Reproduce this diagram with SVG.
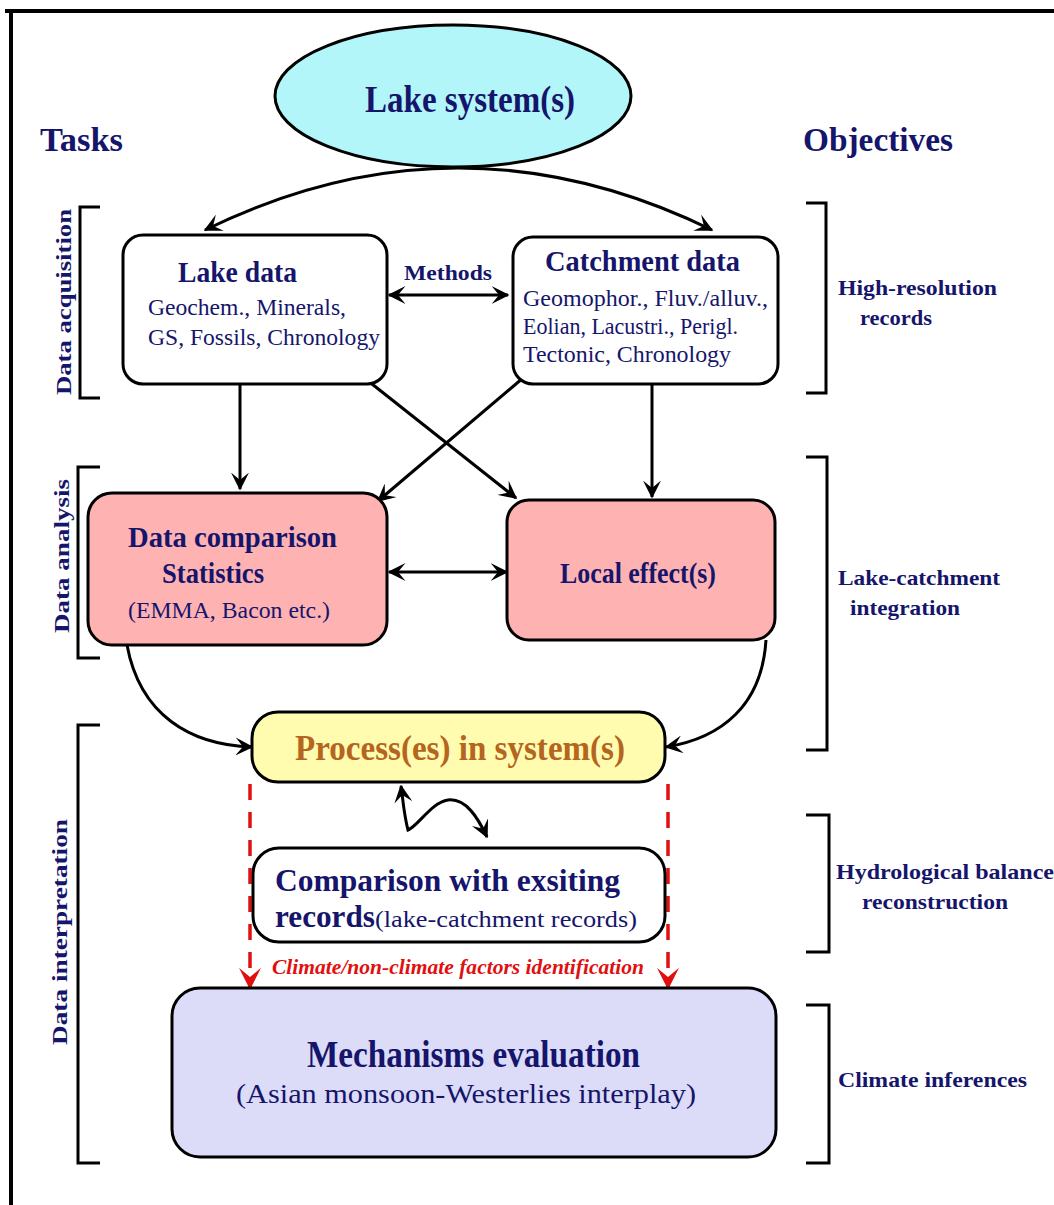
<svg xmlns="http://www.w3.org/2000/svg" width="1054" height="1205" viewBox="0 0 1054 1205">
<defs>
<style>
.t{font-family:'Liberation Serif','Times New Roman',Tinos,serif;fill:#15156b}
.b{font-weight:bold}
.box{stroke:#000;stroke-width:3}
.ln{fill:none;stroke:#000;stroke-width:3}
.br{fill:none;stroke:#000;stroke-width:3}
.red{fill:none;stroke:#e01010;stroke-width:3.5;stroke-dasharray:16 12}
</style>
<marker id="a" viewBox="0 0 12 12" refX="11" refY="6" markerWidth="18" markerHeight="18" orient="auto-start-reverse" markerUnits="userSpaceOnUse">
<path d="M0,0 L12,6 L0,12 L5,6 z" fill="#000"/>
</marker>
<marker id="ar" viewBox="0 0 12 12" refX="11" refY="6" markerWidth="22" markerHeight="22" orient="auto" markerUnits="userSpaceOnUse">
<path d="M0,0 L12,6 L0,12 L5,6 z" fill="#e01010"/>
</marker>
</defs>
<rect width="1054" height="1205" fill="#fff"/>
<g id="frame">
<path d="M5,11 L1054,11 M11,11 L11,1205" fill="none" stroke="#000" stroke-width="4"/>
</g>

<g id="headers">
<text class="t b" x="40" y="151" font-size="34" textLength="83" lengthAdjust="spacingAndGlyphs">Tasks</text>
<text class="t b" x="803" y="151" font-size="34" textLength="150" lengthAdjust="spacingAndGlyphs">Objectives</text>
</g>

<g id="connectors">
<path class="ln" d="M712,230 Q458,106 205,230" marker-start="url(#a)" marker-end="url(#a)"/>
<path class="ln" d="M389,295 L508,295" marker-start="url(#a)" marker-end="url(#a)"/>
<path class="ln" d="M240,385 L240,489" marker-end="url(#a)"/>
<path class="ln" d="M372,384 L516,498" marker-end="url(#a)"/>
<path class="ln" d="M530,372 L378,501" marker-end="url(#a)"/>
<path class="ln" d="M652,385 L652,497" marker-end="url(#a)"/>
<path class="ln" d="M389,572 L507,572" marker-start="url(#a)" marker-end="url(#a)"/>
<path class="ln" d="M127,645 C140,715 190,745 252,747" marker-end="url(#a)"/>
<path class="ln" d="M766,640 C762,705 722,738 666,747" marker-end="url(#a)"/>
<path class="ln" stroke-width="4" d="M401,786 C403,800 404,815 408,830 C418,826 432,802 448,800 C466,798 478,818 487,837" marker-start="url(#a)" marker-end="url(#a)"/>
<path class="red" d="M250,784 L250,988" marker-end="url(#ar)"/>
<path class="red" d="M668,784 L668,988" marker-end="url(#ar)"/>
</g>

<g id="lake-system">
<ellipse class="box" cx="453" cy="96" rx="178" ry="71" fill="#b3f6f9"/>
<text class="t b" x="470" y="112" font-size="37" text-anchor="middle" textLength="210" lengthAdjust="spacingAndGlyphs">Lake system(s)</text>
</g>

<g id="lake-data">
<rect class="box" x="123" y="235" width="264" height="149" rx="20" fill="#fff"/>
<text class="t b" x="178" y="282" font-size="29" textLength="119" lengthAdjust="spacingAndGlyphs">Lake data</text>
<text class="t" x="148" y="315" font-size="23" textLength="198" lengthAdjust="spacingAndGlyphs">Geochem., Minerals,</text>
<text class="t" x="148" y="345" font-size="23" textLength="232" lengthAdjust="spacingAndGlyphs">GS, Fossils, Chronology</text>
</g>

<g id="methods">
<text class="t b" x="404" y="280" font-size="21" textLength="88" lengthAdjust="spacingAndGlyphs">Methods</text>
</g>

<g id="catchment-data">
<rect class="box" x="513" y="237" width="265" height="147" rx="20" fill="#fff"/>
<text class="t b" x="545" y="271" font-size="29" textLength="195" lengthAdjust="spacingAndGlyphs">Catchment data</text>
<text class="t" x="523" y="306" font-size="23" textLength="245" lengthAdjust="spacingAndGlyphs">Geomophor., Fluv./alluv.,</text>
<text class="t" x="523" y="334" font-size="23" textLength="215" lengthAdjust="spacingAndGlyphs">Eolian, Lacustri., Perigl.</text>
<text class="t" x="523" y="362" font-size="23" textLength="208" lengthAdjust="spacingAndGlyphs">Tectonic, Chronology</text>
</g>

<g id="data-comparison">
<rect class="box" x="88" y="493" width="299" height="152" rx="24" fill="#ffb2b2"/>
<text class="t b" x="128" y="547" font-size="29" textLength="209" lengthAdjust="spacingAndGlyphs">Data comparison</text>
<text class="t b" x="162" y="583" font-size="29" textLength="102" lengthAdjust="spacingAndGlyphs">Statistics</text>
<text class="t" x="128" y="618" font-size="23" textLength="202" lengthAdjust="spacingAndGlyphs">(EMMA, Bacon etc.)</text>
</g>

<g id="local-effects">
<rect class="box" x="507" y="500" width="268" height="140" rx="22" fill="#ffb2b2"/>
<text class="t b" x="560" y="583" font-size="29" textLength="156" lengthAdjust="spacingAndGlyphs">Local effect(s)</text>
</g>

<g id="processes">
<rect class="box" x="252" y="712" width="413" height="70" rx="26" fill="#fffcb0"/>
<text class="t b" x="295" y="760" font-size="35" textLength="330" lengthAdjust="spacingAndGlyphs" style="fill:#b5651d">Process(es) in system(s)</text>
</g>

<g id="comparison">
<rect class="box" x="253" y="848" width="412" height="94" rx="26" fill="#fff"/>
<text class="t b" x="275" y="891" font-size="31" textLength="345" lengthAdjust="spacingAndGlyphs">Comparison with exsiting</text>
<text class="t b" x="275" y="927" font-size="31" textLength="100" lengthAdjust="spacingAndGlyphs">records</text>
<text class="t" x="375" y="927" font-size="24" textLength="262" lengthAdjust="spacingAndGlyphs">(lake-catchment records)</text>
</g>

<g id="red-label">
<text x="272" y="974" font-size="20" font-family="'Liberation Serif','Times New Roman',serif" font-weight="bold" font-style="italic" fill="#e01010" textLength="372" lengthAdjust="spacingAndGlyphs">Climate/non-climate factors  identification</text>
</g>

<g id="mechanisms">
<rect class="box" x="172" y="988" width="604" height="169" rx="28" fill="#dcdcf8"/>
<text class="t b" x="307" y="1067" font-size="37" textLength="333" lengthAdjust="spacingAndGlyphs">Mechanisms evaluation</text>
<text class="t" x="236" y="1103" font-size="27" textLength="460" lengthAdjust="spacingAndGlyphs">(Asian monsoon-Westerlies interplay)</text>
</g>

<g id="brackets">
<path class="br" d="M100,207 L80,207 L80,398 L100,398"/>
<path class="br" d="M100,467 L78,467 L78,658 L100,658"/>
<path class="br" d="M100,725 L78,725 L78,1163 L100,1163"/>
<path class="br" d="M806,203 L826,203 L826,393 L806,393"/>
<path class="br" d="M806,457 L827,457 L827,750 L806,750"/>
<path class="br" d="M806,815 L829,815 L829,952 L806,952"/>
<path class="br" d="M806,1005 L829,1005 L829,1163 L806,1163"/>
</g>

<g id="labels">
<text class="t b" transform="translate(71,302) rotate(-90)" font-size="22" text-anchor="middle" textLength="186" lengthAdjust="spacingAndGlyphs">Data acquisition</text>
<text class="t b" transform="translate(69,556) rotate(-90)" font-size="22" text-anchor="middle" textLength="154" lengthAdjust="spacingAndGlyphs">Data analysis</text>
<text class="t b" transform="translate(67,932) rotate(-90)" font-size="22" text-anchor="middle" textLength="226" lengthAdjust="spacingAndGlyphs">Data interpretation</text>
<text class="t b" x="838" y="295" font-size="22" textLength="159" lengthAdjust="spacingAndGlyphs">High-resolution</text>
<text class="t b" x="860" y="325" font-size="22" textLength="72" lengthAdjust="spacingAndGlyphs">records</text>
<text class="t b" x="838" y="585" font-size="22" textLength="162" lengthAdjust="spacingAndGlyphs">Lake-catchment</text>
<text class="t b" x="850" y="615" font-size="22" textLength="110" lengthAdjust="spacingAndGlyphs">integration</text>
<text class="t b" x="836" y="879" font-size="22" textLength="218" lengthAdjust="spacingAndGlyphs">Hydrological balance</text>
<text class="t b" x="862" y="909" font-size="22" textLength="146" lengthAdjust="spacingAndGlyphs">reconstruction</text>
<text class="t b" x="838" y="1087" font-size="22" textLength="189" lengthAdjust="spacingAndGlyphs">Climate inferences</text>
</g>
</svg>
